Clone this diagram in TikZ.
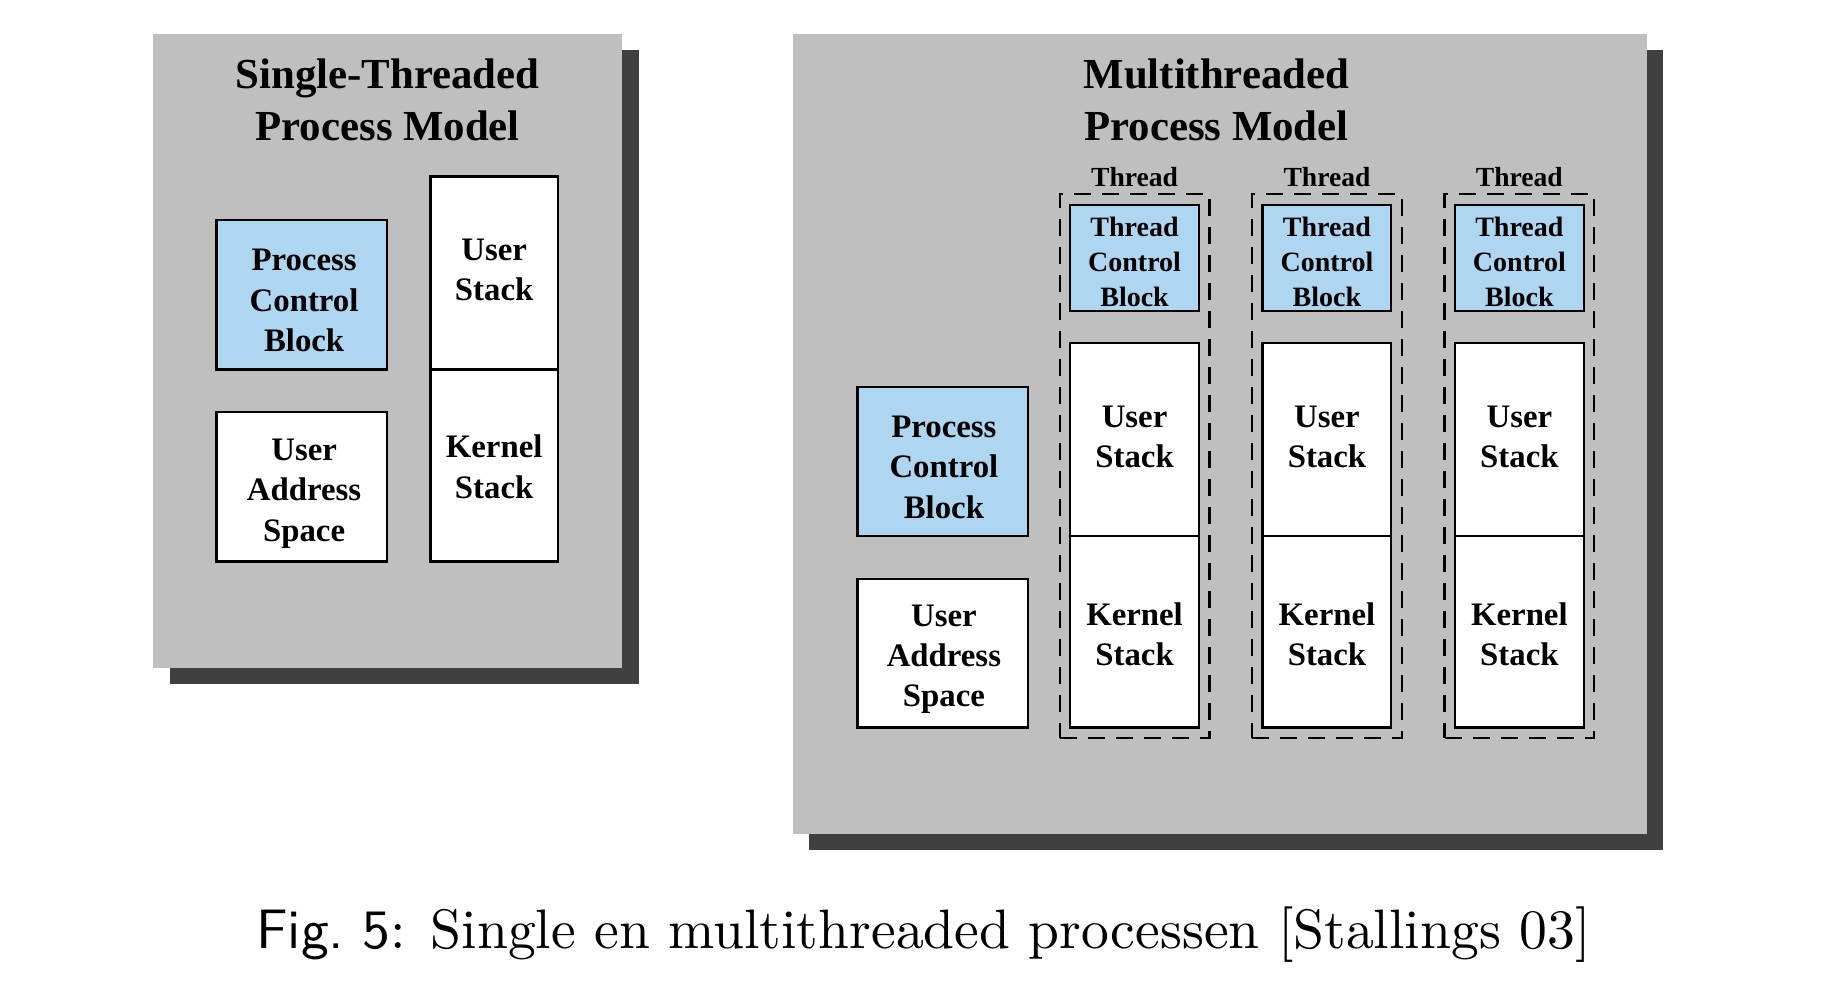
\documentclass[tikz,border=0pt]{standalone}
\usepackage{fontspec}
\usepackage{graphicx}
\newfontfamily\tnr{Liberation Serif}
\definecolor{panelgray}{RGB}{191,191,191}
\definecolor{shadowgray}{RGB}{64,64,64}
\definecolor{lblue}{RGB}{174,214,241}
\def\u{0.5848pt}
\tikzset{
  panel/.style={fill=panelgray, draw=none, inner sep=0pt},
  shadowbox/.style={fill=shadowgray, draw=none, inner sep=0pt},
  wbox/.style={draw=black, fill=white, line width=1.15pt, inner sep=0pt},
  bbox/.style={wbox, fill=lblue},
  btext/.style={inner sep=0pt, align=center, font=\tnr\bfseries\fontsize{16.4}{20.1}\selectfont},
  tcbtext/.style={inner sep=0pt, align=center, font=\tnr\bfseries\fontsize{14}{17.3}\selectfont},
  dashbox/.style={draw=black, line width=1.2pt, dash pattern=on 8.5pt off 5.5pt, inner sep=0pt},
  ttitle/.style={align=center, inner sep=0pt, font=\tnr\bfseries\fontsize{21.4}{25.7}\selectfont},
  thlabel/.style={inner sep=0pt, font=\tnr\bfseries\fontsize{13.8}{16}\selectfont},
}
\begin{document}
\begin{tikzpicture}[x=\u, y=-\u]
\useasboundingbox (0,0) rectangle (1568,855);
\fill[white] (0,0) rectangle (1568,855);
% ---------------- left panel ----------------
\node[shadowbox, minimum width={401*\u}, minimum height={542*\u}] (lshadow) at (345.5,314) {};
\node[panel, minimum width={401*\u}, minimum height={542*\u}] (lpanel) at (331.5,300) {};
\node[ttitle] (ltitle) at (331.5,85.5) {Single-Threaded\\Process Model};
\node[bbox, minimum width={146*\u}, minimum height={128*\u}] (lpcb) at (258,252) {};
\node[btext] (lpcbt) at (260,257) {Process\\Control\\Block};
\node[wbox, minimum width={146*\u}, minimum height={128*\u}] (luas) at (258,416) {};
\node[btext] (luast) at (260,422) {User\\Address\\Space};
\node[wbox, minimum width={109*\u}, minimum height={165*\u}] (lus) at (422.5,233.5) {};
\node[btext] (lust) at (422.5,230.5) {User\\Stack};
\node[wbox, minimum width={109*\u}, minimum height={164*\u}] (lks) at (422.5,398) {};
\node[btext] (lkst) at (422.5,399) {Kernel\\Stack};
% ---------------- right panel ----------------
\node[shadowbox, minimum width={730*\u}, minimum height={684*\u}] (rshadow) at (1057,385) {};
\node[panel, minimum width={730*\u}, minimum height={684*\u}] (rpanel) at (1043,371) {};
\node[ttitle] (rtitle) at (1040,85.5) {Multithreaded\\Process Model};
\node[bbox, minimum width={146*\u}, minimum height={127*\u}] (rpcb) at (806,394.5) {};
\node[btext] (rpcbt) at (807,399.5) {Process\\Control\\Block};
\node[wbox, minimum width={146*\u}, minimum height={127*\u}] (ruas) at (806,558.5) {};
\node[btext] (ruast) at (807,563.5) {User\\Address\\Space};
\foreach \i/\cx in {1/970,2/1134.5,3/1299}{
  \node[dashbox, minimum width={128*\u}, minimum height={465*\u}] (th\i) at (\cx,398.5) {};
  \node[thlabel] (thl\i) at (\cx,151) {Thread};
  \node[bbox, minimum width={110*\u}, minimum height={91*\u}] (tcb\i) at (\cx,220.5) {};
  \node[tcbtext] (tcbt\i) at (\cx,224) {Thread\\Control\\Block};
  \node[wbox, minimum width={110*\u}, minimum height={165*\u}] (us\i) at (\cx,375.5) {};
  \node[btext] (ust\i) at (\cx,373.5) {User\\Stack};
  \node[wbox, minimum width={110*\u}, minimum height={164*\u}] (ks\i) at (\cx,540) {};
  \node[btext] (kst\i) at (\cx,542) {Kernel\\Stack};
}
% ---------------- caption ----------------
\node[inner sep=0pt] (caption) at (789.5,799) {\scalebox{2.78}{\fontsize{10}{12}\selectfont{\sffamily Fig.~5}: Single en multithreaded processen [Stallings 03]}};
\end{tikzpicture}
\end{document}
